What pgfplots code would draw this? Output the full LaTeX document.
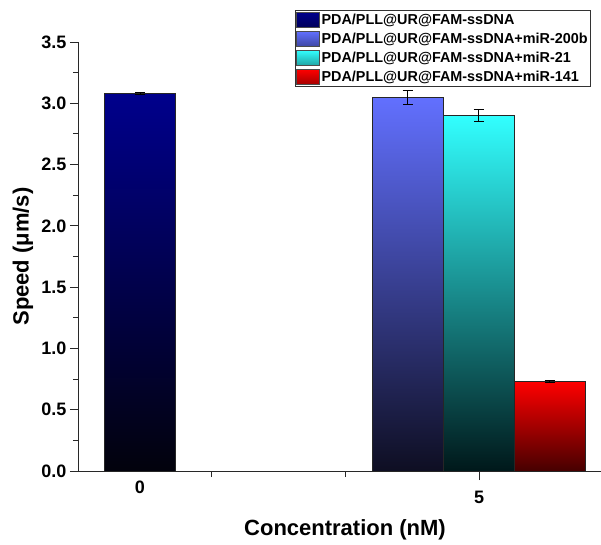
\documentclass[border=0pt]{standalone}
\usepackage{fontspec}
\setmainfont{Liberation Sans}
\usepackage{pgfplots}
\pgfplotsset{compat=1.18}
\definecolor{navyT}{RGB}{0,0,140}
\definecolor{navyB}{RGB}{2,2,12}
\definecolor{blueT}{RGB}{98,112,255}
\definecolor{blueB}{RGB}{14,14,34}
\definecolor{cyanT}{RGB}{50,255,255}
\definecolor{cyanB}{RGB}{0,24,26}
\definecolor{redT}{RGB}{255,0,0}
\definecolor{redB}{RGB}{70,0,0}
\definecolor{axgray}{RGB}{40,40,40}
\pgfplotsset{
  mybar/.style 2 args={ybar, bar width=71, bar shift=0pt, draw=black!85, line width=0.7pt,
    top color=#1, bottom color=#2,
    legend image code/.code={\path[draw=black!70, line width=0.6pt, top color=#1, bottom color=#1!65!black] (-1pt,-7pt) rectangle (22pt,8pt);},
    error bars/.cd, y dir=both, y explicit,
    error bar style={black, line width=1pt},
    error mark options={rotate=90, mark size=5pt, black, line width=1pt}},
}
\begin{document}
\begin{tikzpicture}
\begin{axis}[
  name=ax, scale only axis, width=522pt, height=429pt,
  xmin=79, xmax=601, ymin=0, ymax=3.5, clip=false,
  axis lines*=left,
  axis line style={axgray, line width=1pt},
  tick align=outside,
  every tick/.style={axgray, line width=1pt},
  major tick length=9pt, minor tick length=6pt,
  ytick={0,0.5,1,1.5,2,2.5,3,3.5}, minor y tick num=1,
  yticklabel style={/pgf/number format/.cd, fixed, fixed zerofill, precision=1, assume math mode=true},
  xtick={479}, xticklabels={5}, minor xtick={211,345},
  xticklabel style={/pgf/number format/assume math mode=true, yshift=-8pt},
  extra x ticks={140}, extra x tick labels={0},
  extra x tick style={xtick style={draw=none}, xticklabel style={yshift=11pt}},
  tick label style={font=\bfseries\fontsize{18}{20}\selectfont},
  xlabel={Concentration (nM)}, ylabel={Speed (μm/s)},
  every axis x label/.style={at={(rel axis cs:0.5,0)}, xshift=5pt, yshift=-59pt, anchor=center, font=\bfseries\fontsize{22}{24}\selectfont},
  every axis y label/.style={at={(rel axis cs:0,0.5)}, xshift=-56pt, rotate=90, anchor=center, font=\bfseries\fontsize{22}{24}\selectfont},
  legend style={at={(0.981,1.075)}, anchor=north east, draw=black!80, line width=0.8pt,
    font=\bfseries\fontsize{14.4}{16}\selectfont, inner xsep=1pt, inner ysep=1.5pt, row sep=2.8pt,
    cells={anchor=west}},
]
\addplot[mybar={navyT}{navyB}] coordinates {(140,3.08) +- (0,0.01)};
\addlegendentry{PDA/PLL@UR@FAM-ssDNA}
\addplot[mybar={blueT}{blueB}] coordinates {(407.5,3.05) +- (0,0.058)};
\addlegendentry{PDA/PLL@UR@FAM-ssDNA+miR-200b}
\addplot[mybar={cyanT}{cyanB}] coordinates {(478.5,2.90) +- (0,0.05)};
\addlegendentry{PDA/PLL@UR@FAM-ssDNA+miR-21}
\addplot[mybar={redT}{redB}] coordinates {(549.5,0.73) +- (0,0.012)};
\addlegendentry{PDA/PLL@UR@FAM-ssDNA+miR-141}
\end{axis}
\pgfresetboundingbox
\path[use as bounding box] ([xshift=-79pt,yshift=-73pt]ax.south west) rectangle ([yshift=42pt]ax.north east);
\end{tikzpicture}
\end{document}
